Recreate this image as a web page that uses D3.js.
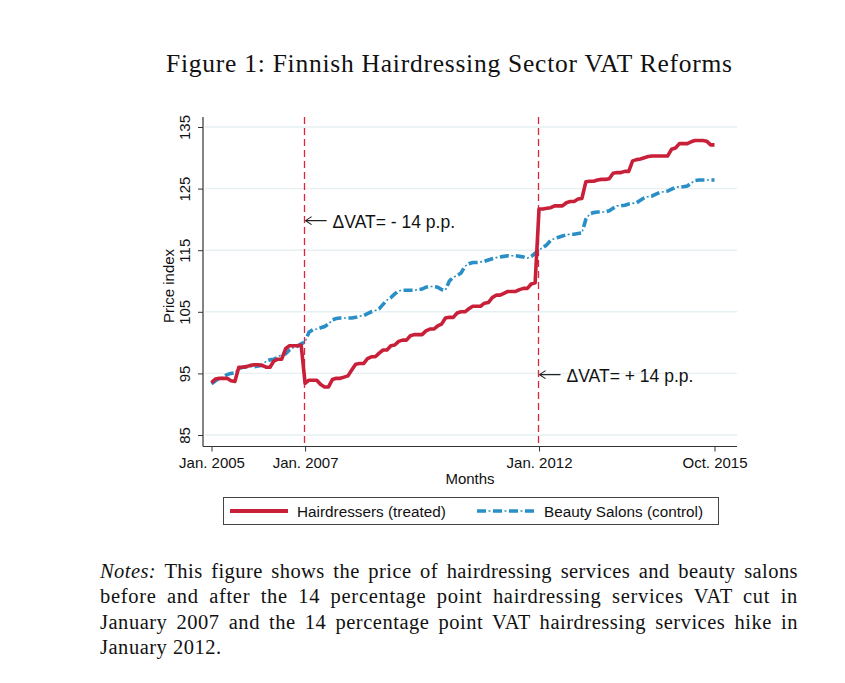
<!DOCTYPE html>
<meta charset="utf-8">
<style>
  body { margin: 0; background: #fff; }
  text { font-family: "Liberation Sans", Arial, sans-serif; fill: #111; }
  .serif { font-family: "Liberation Serif", "DejaVu Serif", serif; }
</style>
<body>
<script src="https://cdnjs.cloudflare.com/ajax/libs/d3/7.8.5/d3.min.js"></script>
<script>

    // monthly price index, Jan. 2005 .. Oct. 2015
    var hairdressers = [
        93.5, 94.1, 94.2, 94.2, 94.2, 93.8, 93.7, 96.0, 96.0, 96.1, 96.3, 96.4,
        96.4, 96.3, 96.0, 96.0, 97.0, 97.3, 97.3, 99.0, 99.5, 99.5, 99.5, 99.6,
        93.4, 93.9, 93.9, 93.9, 93.2, 92.8, 92.8, 94.0, 94.2, 94.2, 94.4, 94.6,
        95.6, 96.5, 96.6, 96.6, 97.4, 97.7, 97.7, 98.3, 98.8, 98.8, 99.5, 99.6,
        100.2, 100.4, 100.4, 101.1, 101.3, 101.3, 101.3, 101.9, 102.2, 102.2, 102.7, 103.0,
        104.0, 104.1, 104.1, 104.8, 105.0, 105.0, 105.5, 105.9, 105.9, 105.9, 106.4, 106.5,
        107.3, 107.7, 107.7, 108.0, 108.3, 108.3, 108.3, 108.6, 108.8, 108.8, 109.5, 109.7,
        121.7, 121.7, 121.8, 121.9, 122.2, 122.2, 122.2, 122.7, 122.9, 122.9, 123.3, 123.4,
        126.1, 126.2, 126.2, 126.4, 126.5, 126.5, 126.6, 127.5, 127.6, 127.6, 127.8, 127.8,
        129.5, 129.7, 129.8, 130.0, 130.2, 130.3, 130.3, 130.3, 130.3, 130.3, 131.4, 131.6,
        132.3, 132.3, 132.3, 132.6, 132.8, 132.8, 132.8, 132.7, 132.1, 132.1
    ];

    var beautySalons = [
        93.3, 93.8, 94.2, 94.4, 94.8, 95.0, 95.1, 95.8, 96.0, 96.1, 96.1, 96.1,
        96.2, 96.3, 97.0, 97.2, 97.3, 97.6, 98.1, 98.2, 98.8, 99.2, 99.4, 99.8,
        100.1, 101.7, 102.1, 102.2, 102.4, 102.6, 103.0, 103.7, 103.9, 104.0, 104.0, 104.0,
        104.0, 104.1, 104.3, 104.4, 104.7, 105.0, 105.2, 105.5, 106.2, 106.9, 107.3, 107.9,
        108.4, 108.5, 108.5, 108.5, 108.5, 108.6, 108.7, 109.0, 109.1, 109.1, 109.0, 108.6,
        108.5, 110.0, 110.6, 110.9, 111.3, 112.4, 112.8, 113.0, 113.0, 113.1, 113.2, 113.4,
        113.6, 113.8, 113.9, 114.0, 114.1, 114.1, 114.1, 114.0, 113.9, 113.7, 114.0, 114.5,
        115.1, 115.4, 115.9, 116.6, 116.9, 117.1, 117.3, 117.5, 117.6, 117.6, 117.7, 117.8,
        120.0, 120.9, 121.1, 121.2, 121.2, 121.2, 121.4, 121.8, 122.2, 122.2, 122.3, 122.5,
        122.6, 122.7, 123.1, 123.5, 123.7, 123.8, 124.1, 124.4, 124.5, 124.6, 124.9, 125.2,
        125.3, 125.3, 125.4, 125.9, 126.3, 126.4, 126.4, 126.4, 126.4, 126.4
    ];

    var yTicks = [85, 95, 105, 115, 125, 135];
    var xTickMonths = [0, 24, 84, 129];
    var xTickLabels = ["Jan. 2005", "Jan. 2007", "Jan. 2012", "Oct. 2015"];

    var reformMonths = [24, 84];
    var reformLabels = ["\u0394VAT= - 14 p.p.", "\u0394VAT= + 14 p.p."];
    var reformLabelValues = [119.8, 94.8];

    var seriesNames = ["Hairdressers (treated)", "Beauty Salons (control)"];

    var title = "Figure 1: Finnish Hairdressing Sector VAT Reforms";
    var notesLines = [
        ["Notes:", " This figure shows the price of hairdressing services and beauty salons"],
        ["", "before and after the 14 percentage point hairdressing services VAT cut in"],
        ["", "January 2007 and the 14 percentage point VAT hairdressing services hike in"],
        ["", "January 2012."]
    ];

    var w = 845, h = 683;
    var plotLeft = 203, plotRight = 737, plotTop = 117, plotBottom = 446.5;
    var red = "#c9203a", blue = "#2a8fc6";

    var svg = d3.select("body")
            .append("svg")
            .attr("width", w)
            .attr("height", h);

    var x = d3.scaleLinear().domain([0, 129]).range([211.5, 714.5]);
    var y = d3.scaleLinear().domain([85, 135]).range([435, 127]);

    // title
    svg.append("text")
            .attr("class", "serif")
            .attr("x", 166)
            .attr("y", 72)
            .attr("textLength", 566)
            .attr("lengthAdjust", "spacing")
            .style("font-size", "25.5px")
            .text(title);

    // grid lines
    svg.append("g")
            .selectAll("line")
            .data(yTicks)
            .enter()
            .append("line")
            .attr("x1", plotLeft + 2)
            .attr("x2", plotRight)
            .attr("y1", function(d) { return y(d); })
            .attr("y2", function(d) { return y(d); })
            .attr("stroke", "#e6eff1")
            .attr("stroke-width", 1.4);

    // y axis
    var yAxis = svg.append("g")
            .attr("transform", "translate(" + plotLeft + ",0)")
            .call(d3.axisLeft(y).tickValues(yTicks).tickSize(5).tickFormat(d3.format("d")));
    yAxis.select(".domain").remove();
    yAxis.selectAll(".tick line").attr("stroke", "#333");
    yAxis.selectAll(".tick text")
            .attr("x", 0)
            .attr("y", -13)
            .attr("dy", 0)
            .attr("transform", "rotate(-90)")
            .attr("text-anchor", "middle")
            .style("font-size", "15px")
            .style("font-family", "Liberation Sans, Arial, sans-serif")
            .attr("fill", "#111");

    // x axis
    var xAxis = svg.append("g")
            .attr("transform", "translate(0," + plotBottom + ")")
            .call(d3.axisBottom(x).tickValues(xTickMonths).tickSize(5)
                    .tickFormat(function(d, i) { return xTickLabels[i]; }));
    xAxis.select(".domain").remove();
    xAxis.selectAll(".tick line").attr("stroke", "#333");
    xAxis.selectAll(".tick text")
            .attr("y", 21.5)
            .attr("dy", 0)
            .style("font-size", "15px")
            .style("font-family", "Liberation Sans, Arial, sans-serif")
            .attr("fill", "#111");

    // axis lines
    svg.append("line")
            .attr("x1", plotLeft).attr("x2", plotLeft)
            .attr("y1", plotTop).attr("y2", plotBottom)
            .attr("stroke", "#333").attr("stroke-width", 1.2);
    svg.append("line")
            .attr("x1", plotLeft).attr("x2", plotRight)
            .attr("y1", plotBottom).attr("y2", plotBottom)
            .attr("stroke", "#333").attr("stroke-width", 1.2);

    // axis titles
    svg.append("text")
            .attr("transform", "translate(174,286) rotate(-90)")
            .attr("text-anchor", "middle")
            .style("font-size", "15px")
            .text("Price index");
    svg.append("text")
            .attr("x", 470)
            .attr("y", 484)
            .attr("text-anchor", "middle")
            .style("font-size", "15px")
            .text("Months");

    // reform lines
    svg.append("g")
            .selectAll("line")
            .data(reformMonths)
            .enter()
            .append("line")
            .attr("x1", function(d) { return Math.round(x(d) - 1.5) + 0.5; })
            .attr("x2", function(d) { return Math.round(x(d) - 1.5) + 0.5; })
            .attr("y1", plotTop)
            .attr("y2", plotBottom)
            .attr("stroke", "#e0243e")
            .attr("stroke-width", 1.3)
            .attr("stroke-dasharray", "7,4");

    // series
    var line = d3.line()
            .x(function(d, i) { return x(i); })
            .y(function(d) { return y(d); });

    svg.append("path")
            .datum(beautySalons)
            .attr("d", line)
            .attr("fill", "none")
            .attr("stroke", blue)
            .attr("stroke-width", 3.6)
            .attr("stroke-dasharray", "9,7");
    svg.append("path")
            .datum(beautySalons)
            .attr("d", line)
            .attr("fill", "none")
            .attr("stroke", blue)
            .attr("stroke-width", 1.6)
            .attr("stroke-dasharray", "2,14")
            .attr("stroke-dashoffset", -11.5);

    svg.append("path")
            .datum(hairdressers)
            .attr("d", line)
            .attr("fill", "none")
            .attr("stroke", red)
            .attr("stroke-width", 3.6)
            .attr("stroke-linejoin", "round");

    // annotations
    var notes = svg.append("g")
            .selectAll("g")
            .data(reformMonths)
            .enter()
            .append("g")
            .attr("transform", function(d, i) {
                return "translate(" + (x(d) + 0.5) + "," + y(reformLabelValues[i]) + ")";
            });
    notes.append("path")
            .attr("d", "M21,0H0M6,-4L0,0L6,4")
            .attr("fill", "none")
            .attr("stroke", "#222")
            .attr("stroke-width", 1.1);
    notes.append("text")
            .attr("x", 27)
            .attr("y", 7)
            .style("font-size", "17.5px")
            .text(function(d, i) { return reformLabels[i]; });

    // legend
    var legend = svg.append("g");
    legend.append("rect")
            .attr("x", 223.5)
            .attr("y", 497.5)
            .attr("width", 495)
            .attr("height", 27)
            .attr("fill", "#fff")
            .attr("stroke", "#444")
            .attr("stroke-width", 1);
    legend.append("line")
            .attr("x1", 230).attr("x2", 288)
            .attr("y1", 511).attr("y2", 511)
            .attr("stroke", red).attr("stroke-width", 3.8);
    legend.append("line")
            .attr("x1", 477).attr("x2", 536)
            .attr("y1", 511).attr("y2", 511)
            .attr("stroke", blue).attr("stroke-width", 3.6)
            .attr("stroke-dasharray", "9,7");
    legend.append("line")
            .attr("x1", 477).attr("x2", 536)
            .attr("y1", 511).attr("y2", 511)
            .attr("stroke", blue).attr("stroke-width", 1.6)
            .attr("stroke-dasharray", "2,14")
            .attr("stroke-dashoffset", -11.5);
    legend.selectAll("text")
            .data(seriesNames)
            .enter()
            .append("text")
            .attr("x", function(d, i) { return i === 0 ? 297 : 544; })
            .attr("y", 516.5)
            .style("font-size", "15.3px")
            .text(function(d) { return d; });

    // notes paragraph, justified: half the slack to letters, half to spaces
    var noteTop = 578, noteStep = 25.3, noteLeft = 100, noteWidth = 698;
    var letterSpacing = 0;
    notesLines.forEach(function(parts, i) {
        var t = svg.append("text")
                .attr("class", "serif")
                .attr("x", noteLeft)
                .attr("y", noteTop + i * noteStep)
                .style("font-size", "20.5px");
        if (parts[0]) t.append("tspan").style("font-style", "italic").text(parts[0]);
        t.append("tspan").text(parts[1]);
        if (i < notesLines.length - 1) {
            var str = parts[0] + parts[1];
            var natural = t.node().getComputedTextLength();
            var slack = noteWidth - natural;
            var spaces = str.split(" ").length - 1;
            var ls = slack * 0.5 / str.length;
            letterSpacing = ls;
            t.style("letter-spacing", ls + "px")
             .style("word-spacing", (slack * 0.5 / spaces) + "px");
        } else {
            t.style("letter-spacing", letterSpacing + "px");
        }
    });

</script>
